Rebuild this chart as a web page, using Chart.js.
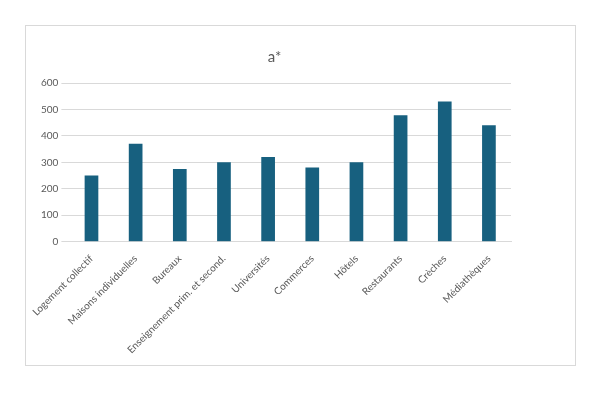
<!DOCTYPE html>
<html><head><meta charset="utf-8">
<script src="https://cdn.jsdelivr.net/npm/chart.js@4"></script>
<style>
html,body{margin:0;background:#fff;}
#box{position:absolute;left:25px;top:25px;width:549px;height:339px;border:1px solid #d9d9d9;}
</style></head>
<body>
<div id="box"><canvas id="c" width="549" height="339"></canvas></div>
<script>
// data
const categories = ["Logement collectif","Maisons individuelles","Bureaux","Enseignement prim. et second.","Universités","Commerces","Hôtels","Restaurants","Crèches","Médiathèques"];
const values = [250, 370, 275, 300, 320, 280, 300, 478, 530, 440];

new Chart(document.getElementById("c"), {
  type: "bar",
  data: {
    labels: categories,
    datasets: [{ data: values, backgroundColor: "#17607F", barPercentage: 0.62, categoryPercentage: 0.5 }]
  },
  options: {
    responsive: false,
    animation: false,
    layout: { padding: { left: 12, right: 64, top: 10, bottom: 6 } },
    plugins: {
      legend: { display: false },
      title: { display: true, text: "a*", color: "#595959", font: { family: "Lato", size: 15, weight: "normal" }, padding: { top: 12, bottom: 17 } },
      tooltip: { enabled: false }
    },
    scales: {
      x: {
        grid: { display: false },
        border: { color: "#d9d9d9" },
        ticks: { color: "#595959", font: { family: "Lato", size: 10 }, maxRotation: 45, minRotation: 45, autoSkip: false }
      },
      y: {
        min: 0, max: 600,
        ticks: { stepSize: 100, color: "#595959", font: { family: "Lato", size: 10 } },
        grid: { color: "#d9d9d9" },
        border: { display: false }
      }
    }
  }
});
</script>
</body></html>
